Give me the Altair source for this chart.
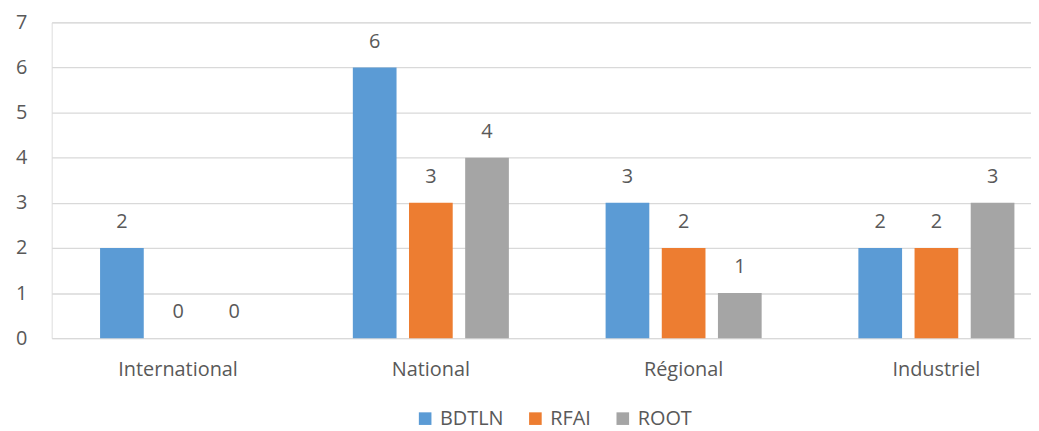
import altair as alt
import pandas as pd

categories = ["International", "National", "Régional", "Industriel"]
series = ["BDTLN", "RFAI", "ROOT"]
bdtln = [2, 6, 3, 2]
rfai = [0, 3, 2, 2]
root = [0, 4, 1, 3]
colors = ["#5B9BD5", "#ED7D31", "#A5A5A5"]
y_ticks = [0, 1, 2, 3, 4, 5, 6, 7]

rows = []
for name, vals in zip(series, [bdtln, rfai, root]):
    for c, v in zip(categories, vals):
        rows.append({"Catégorie": c, "Série": name, "Valeur": v})
df = pd.DataFrame(rows)

FONT = "Open Sans"
TXT = "#595959"
FS = 20

x = alt.X("Catégorie:N", sort=categories,
          scale=alt.Scale(range=[0, 1018], paddingInner=0, paddingOuter=0),
          axis=alt.Axis(title=None, labelAngle=0, domain=False, ticks=False, tickSize=0,
                        labelPadding=22, labelFont=FONT, labelFontSize=FS, labelColor=TXT,
                        grid=False))
xo = alt.XOffset("Série:N", sort=series,
                 scale=alt.Scale(paddingInner=0.214, paddingOuter=0.857))
y = alt.Y("Valeur:Q", scale=alt.Scale(domain=[0, 7], nice=False),
          axis=alt.Axis(title=None, values=y_ticks, domain=False, ticks=False, tickSize=0,
                        labelPadding=25, labelFont=FONT, labelFontSize=FS, labelColor=TXT,
                        grid=True, gridColor="#D9D9D9", gridWidth=1.3))
color = alt.Color("Série:N", sort=series,
                  scale=alt.Scale(domain=series, range=colors),
                  legend=alt.Legend(title=None, orient="none", direction="horizontal",
                                    legendX=366, legendY=389, padding=0,
                                    symbolType="square", symbolSize=161,
                                    symbolStrokeWidth=0, labelOffset=5,
                                    columnPadding=22,
                                    labelFont=FONT, labelFontSize=FS, labelColor=TXT))

base = alt.Chart(df).encode(x=x, xOffset=xo)
bars = base.mark_bar(size=44).encode(y=y, color=color)
labels = base.mark_text(baseline="alphabetic", dy=-20, font=FONT, fontSize=FS,
                        color=TXT).encode(y=alt.Y("Valeur:Q"), text=alt.Text("Valeur:Q"))

chart = (bars + labels).properties(
    width=986, height=318,
    autosize=alt.AutoSizeParams(type="none"),
    padding={"left": 44, "top": 13, "right": 0, "bottom": 92},
).configure_view(stroke=None).configure(background="white")

chart.save("out.html", embed_options={"renderer": "svg", "actions": False})
